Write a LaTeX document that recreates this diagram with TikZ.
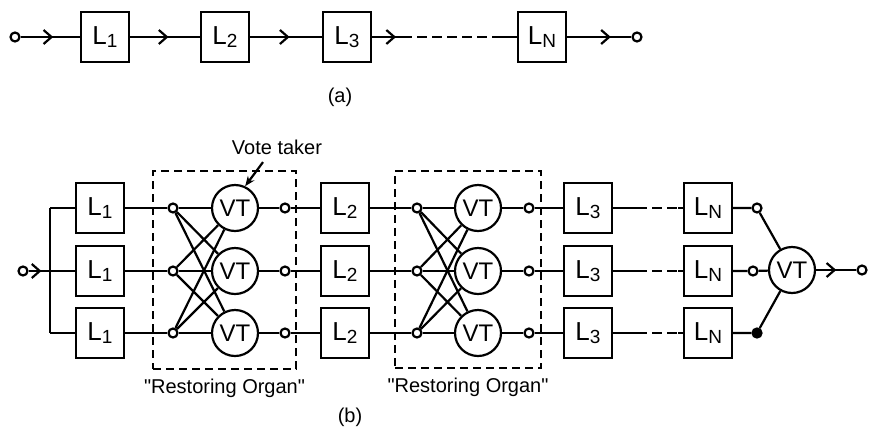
\documentclass[tikz,border=0pt]{standalone}
\usepackage{fontspec}
\setmainfont{Liberation Sans}
\usetikzlibrary{arrows.meta,positioning,decorations.markings}

\newcommand{\lname}[1]{L\raisebox{-1.5pt}{\fontsize{9.5}{9.5}\selectfont #1}}

\begin{document}
\begin{tikzpicture}[x=0.5pt, y=-0.5pt, line width=1.1pt,
  lbox/.style={draw, minimum width=24pt, minimum height=25pt, inner sep=0pt,
               font=\fontsize{13}{13}\selectfont},
  vt/.style={draw, circle, minimum size=23pt, inner sep=0pt, font=\fontsize{12}{12}\selectfont},
  term/.style={draw, circle, fill=white, minimum size=4.5pt, inner sep=0pt},
  dot/.style={term, fill=black},
  organ/.style={draw, line width=0.7pt, dash pattern=on 4pt off 2.5pt, inner sep=0pt},
  lbl/.style={font=\fontsize{10}{12}\selectfont},
  dashline/.style={dash pattern=on 5pt off 2.5pt},
  flow/.style={postaction={decorate}, decoration={markings,
               mark=at position #1 with {\arrow{Straight Barb[length=4pt,width=7pt]}}}},
  flow/.default=0.55]
  \useasboundingbox (0,0) rectangle (871,429);

  % (a) single chain
  \node[term] (ain) at (15,37) {};
  \node[lbox] (a1) at (105,37) {\lname{1}};
  \node[lbox] (a2) at (225,37) {\lname{2}};
  \node[lbox] (a3) at (347,37) {\lname{3}};
  \node[lbox] (aN) at (542,37) {\lname{N}};
  \node[term] (aout) at (637,37) {};
  \coordinate (ads) at (402,37);
  \coordinate (ade) at (492,37);
  \draw[flow] (ain) -- (a1);
  \draw[flow] (a1) -- (a2);
  \draw[flow] (a2) -- (a3);
  \draw[flow=0.8] (a3) -- (ads);
  \draw[dashline] (ads) -- (ade);
  \draw (ade) -- (aN);
  \draw[flow=0.68] (aN) -- (aout);
  \node[lbl] (capa) at (340,97) {(a)};

  % (b) multiplexed chain
  \foreach \r/\y in {a/208, b/271, c/333} {
    \node[lbox] (l1\r) at (100,\y) {\lname{1}};
    \node[term] (ja\r) at (173,\y) {};
    \node[vt] (va\r) at (235,\y) {VT};
    \node[term] (oa\r) at (285,\y) {};
    \node[lbox] (l2\r) at (345,\y) {\lname{2}};
    \node[term] (jb\r) at (417,\y) {};
    \node[vt] (vb\r) at (478,\y) {VT};
    \node[term] (ob\r) at (529,\y) {};
    \node[lbox] (l3\r) at (588,\y) {\lname{3}};
    \node[lbox] (ln\r) at (708,\y) {\lname{N}};
    \coordinate (ds\r) at (637,\y);
    \coordinate (de\r) at (678,\y);
  }
  \node[organ, minimum width=71.5pt, minimum height=99pt] (org1) at (224.5,270) {};
  \node[organ, minimum width=73pt, minimum height=98.5pt] (org2) at (468,269.5) {};
  \node[lbl, below=1pt of org1] (rest1) {\textquotedbl Restoring Organ\textquotedbl};
  \node[lbl, below=1pt of org2] (rest2) {\textquotedbl Restoring Organ\textquotedbl};
  \node[lbl] (vtake) at (277,147) {Vote taker};
  \draw[-{Stealth[length=5pt,width=4pt]}] ([xshift=-7pt]vtake.south) -- (vaa.65);

  \node[term] (bin) at (23,271) {};
  \coordinate (busa) at (50,208);
  \coordinate (busb) at (50,271);
  \coordinate (busc) at (50,333);
  \draw[flow=0.6] (bin) -- (busb);
  \draw (busa) -- (busc);

  \node[term] (fa) at (757,208) {};
  \node[term] (fb) at (753,271) {};
  \node[dot] (fc) at (757,333) {};
  \node[vt] (vfin) at (792,270) {VT};
  \node[term] (bout) at (862,270) {};

  \foreach \r in {a,b,c} {
    \draw (bus\r) -- (l1\r);
    \draw (l1\r) -- (ja\r);
    \draw (va\r) -- (oa\r) -- (l2\r);
    \draw (l2\r) -- (jb\r);
    \draw (vb\r) -- (ob\r) -- (l3\r);
    \draw (l3\r) -- (ds\r);
    \draw[dashline] (ds\r) -- (de\r);
    \draw (de\r) -- (ln\r);
    \draw (ln\r) -- (f\r) -- (vfin);
    \foreach \s in {a,b,c} {
      \draw (ja\r) -- (va\s);
      \draw (jb\r) -- (vb\s);
    }
  }
  \draw[flow=0.5] (vfin) -- (bout);
  \node[lbl] (capb) at (350,417) {(b)};
\end{tikzpicture}
\end{document}
